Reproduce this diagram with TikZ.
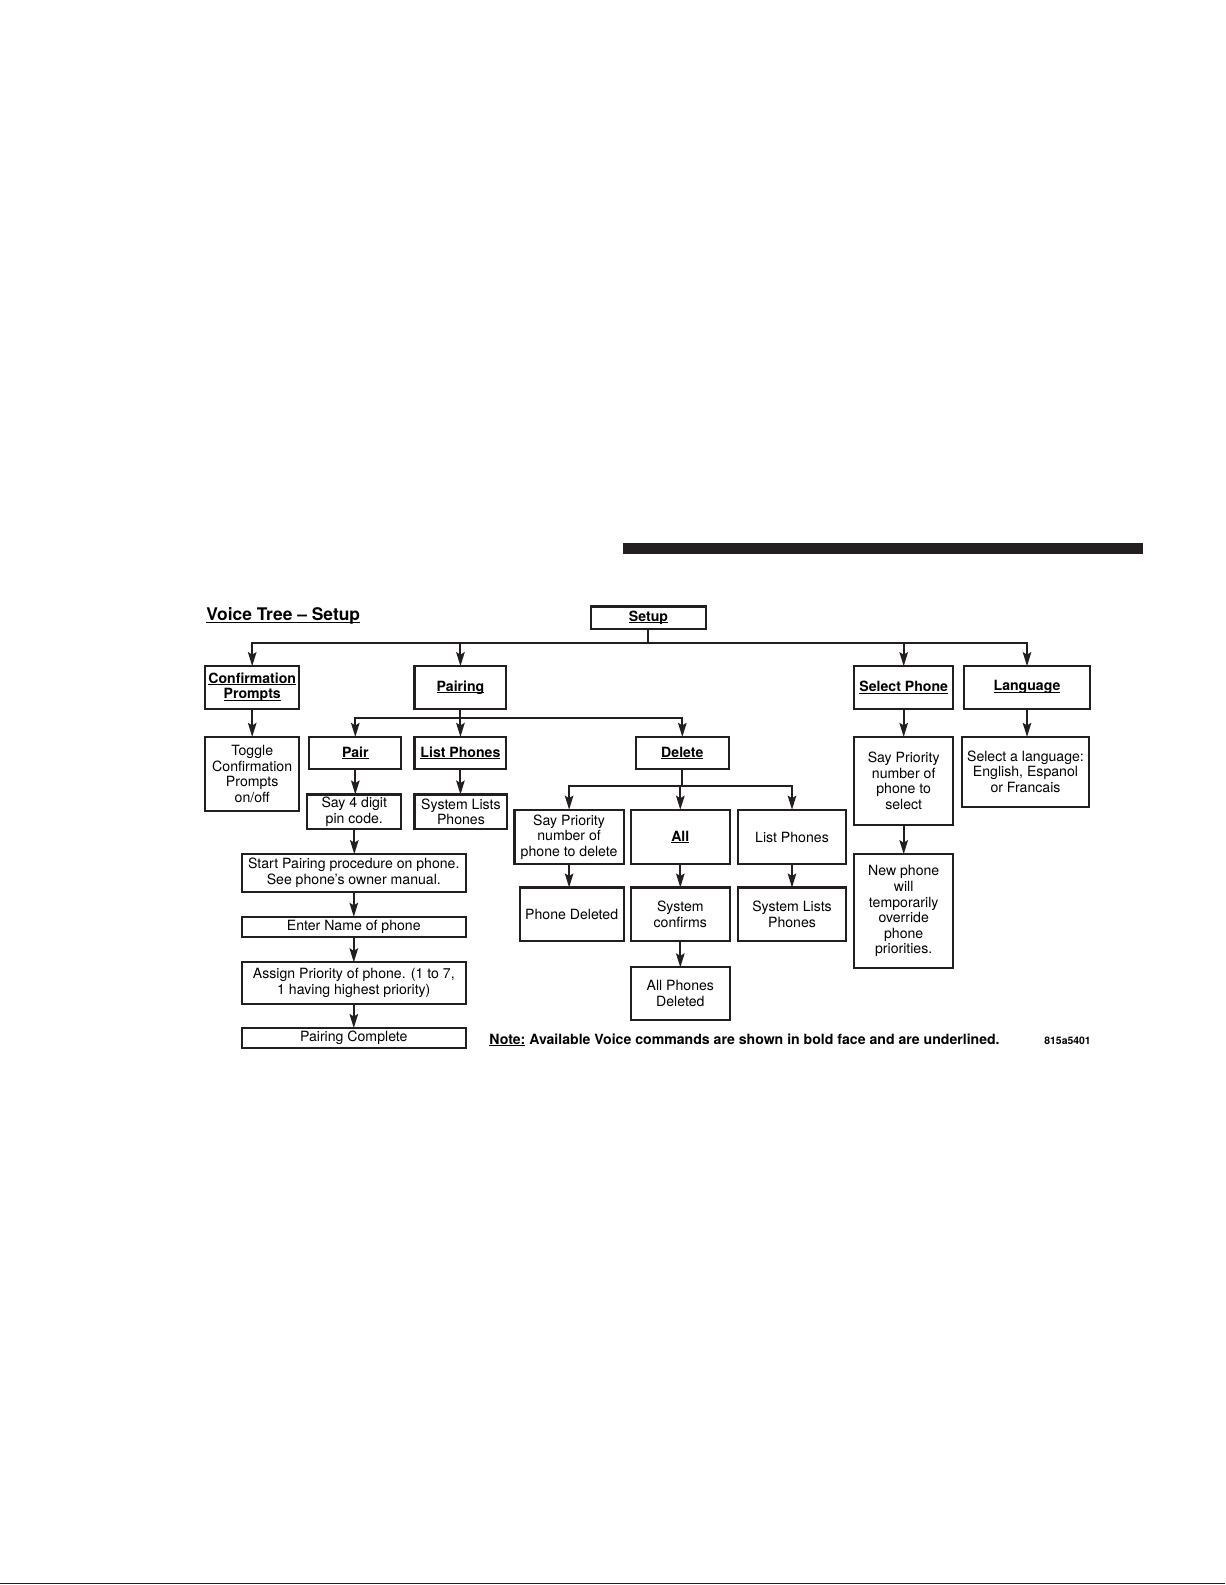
\documentclass[tikz,border=0pt]{standalone}
\usepackage{fontspec}
\setmainfont{TeX Gyre Heros}
\usetikzlibrary{arrows.meta}
\definecolor{ink}{RGB}{35,31,32}
\newsavebox\ulsave
\newcommand\myul[2][-2pt]{\sbox\ulsave{#2}\usebox\ulsave\llap{\rule[#1]{\wd\ulsave}{1pt}}}
\newcommand\cmdl[1]{\myul{\bfseries #1}}
% box by its corners (x1,y1) (x2,y2) in picture units
\newcommand\bx[6]{\node[box, minimum width={(#4-#2)*1.0107pt}, minimum height={(#5-#3)*1.0107pt}]
  (#1) at ({(#2+#4)/2},{(#3+#5)/2}) {#6};}
\begin{document}
\begin{tikzpicture}[x=1.0107pt,y=-1.0107pt,
  box/.style={draw=ink, line width=2.1pt, inner sep=0pt, outer sep=0pt, align=center,
    font=\fontsize{14.1}{15.6}\selectfont, text=black},
  conn/.style={draw=ink, line width=2pt},
  arr/.style={conn, -{Stealth[length=14pt,width=8.5pt,inset=2.5pt]}}]
\useasboundingbox (0,0) rectangle (1212,1568);
% top bar and bottom rule
\fill[ink] (616,537) rectangle (1131,548);
\draw[ink, line width=1.2pt] (0,1566.8) -- (1212,1566.8);
% title
\node[anchor=west, inner sep=0pt, font=\fontsize{17.4}{20}\selectfont\bfseries] (title) at (204,609)
  {\myul[-2.6pt]{Voice Tree \textendash{} Setup}};
% level 0
\bx{setup}{585}{600}{698}{622}{\cmdl{Setup}}
% level 1
\bx{conf}{203}{659}{296}{701}{\cmdl{Confirmation}\\\cmdl{Prompts}}
\bx{pairing}{410}{659}{501}{701}{\cmdl{Pairing}}
\bx{selph}{845}{659}{943}{701}{\cmdl{Select Phone}}
\bx{lang}{954}{659}{1078}{701}{\cmdl{Language}}
% level 2
\bx{toggle}{203}{729}{296}{802}{Toggle\\Confirmation\\Prompts\\on/off}
\bx{pair}{306}{729}{397}{761}{\cmdl{Pair}}
\bx{listp}{410}{729}{501}{761}{\cmdl{List Phones}}
\bx{delete}{629}{729}{721}{761}{\cmdl{Delete}}
\bx{sp2}{845}{729}{943}{816}{Say Priority\\number of\\phone to\\select}
\bx{sellang}{952}{729}{1077}{798}{Select a language:\\English, Espanol\\or Francais}
% pairing chain
\bx{say4}{304}{786}{397}{820}{Say 4 digit\\pin code.}
\bx{sysl1}{410}{786}{502}{820}{System Lists\\Phones}
\bx{start}{239}{845}{461}{882}{Start Pairing procedure on phone.\\See phone’s owner manual.}
\bx{enter}{239}{907}{461}{927}{Enter Name of phone}
\bx{assign}{239}{952}{461}{993}{Assign Priority of phone. (1 to 7,\\1 having highest priority)}
\bx{complete}{239}{1017}{461}{1037}{Pairing Complete}
% delete branch
\bx{sp}{509}{801}{617}{855}{Say Priority\\number of\\phone to delete}
\bx{all}{624}{801}{722}{855}{\cmdl{All}}
\bx{lp2}{730}{801}{837}{855}{List Phones}
\bx{pd}{514}{878}{617}{931}{Phone Deleted}
\bx{sc}{624}{878}{722}{931}{System\\confirms}
\bx{sysl2}{730}{878}{837}{931}{System Lists\\Phones}
\bx{apd}{624}{957}{722}{1009}{All Phones\\Deleted}
% select phone branch
\bx{newph}{845}{845}{943}{958}{New phone\\will\\temporarily\\override\\phone\\priorities.}
% note and code
\node[anchor=west, inner sep=0pt, font=\fontsize{14.1}{16}\selectfont\bfseries] (note) at (484,1029)
  {\myul{Note:} Available Voice commands are shown in bold face and are underlined.};
\node[anchor=west, inner sep=0pt, font=\fontsize{10.4}{12}\selectfont\bfseries] (code) at (1033,1030) {815a5401};
% connectors: setup bus
\coordinate (b1) at (641.5,636);
\draw[conn] (setup.south) -- (b1);
\draw[arr] (b1) -| (conf.north);
\draw[arr] (b1) -| (pairing.north);
\draw[arr] (b1) -| (selph.north);
\draw[arr] (b1) -| (lang.north);
% pairing bus
\coordinate (b2) at (455.5,710);
\draw[conn] (pairing.south) -- (b2);
\draw[arr] (b2) -| (pair.north);
\draw[arr] (b2) -- (listp.north);
\draw[arr] (b2) -| (delete.north);
% delete bus
\coordinate (b3) at (675,778);
\draw[conn] (delete.south) -- (b3);
\draw[arr] (b3) -| (sp.north);
\draw[arr] (b3) -| (all.north);
\draw[arr] (b3) -| (lp2.north);
% verticals
\draw[arr] (conf.south) -- (conf.south |- toggle.north);
\draw[arr] (pair.south) -- (pair.south |- say4.north);
\draw[arr] (listp.south) -- (listp.south |- sysl1.north);
\draw[arr] (say4.south) -- (say4.south |- start.north);
\draw[arr] (start.south) -- (start.south |- enter.north);
\draw[arr] (enter.south) -- (enter.south |- assign.north);
\draw[arr] (assign.south) -- (assign.south |- complete.north);
\draw[arr] (sp.south) -- (sp.south |- pd.north);
\draw[arr] (all.south) -- (all.south |- sc.north);
\draw[arr] (sc.south) -- (sc.south |- apd.north);
\draw[arr] (lp2.south) -- (lp2.south |- sysl2.north);
\draw[arr] (selph.south) -- (selph.south |- sp2.north);
\draw[arr] (sp2.south) -- (sp2.south |- newph.north);
\draw[arr] (lang.south) -- (lang.south |- sellang.north);
\end{tikzpicture}
\end{document}
